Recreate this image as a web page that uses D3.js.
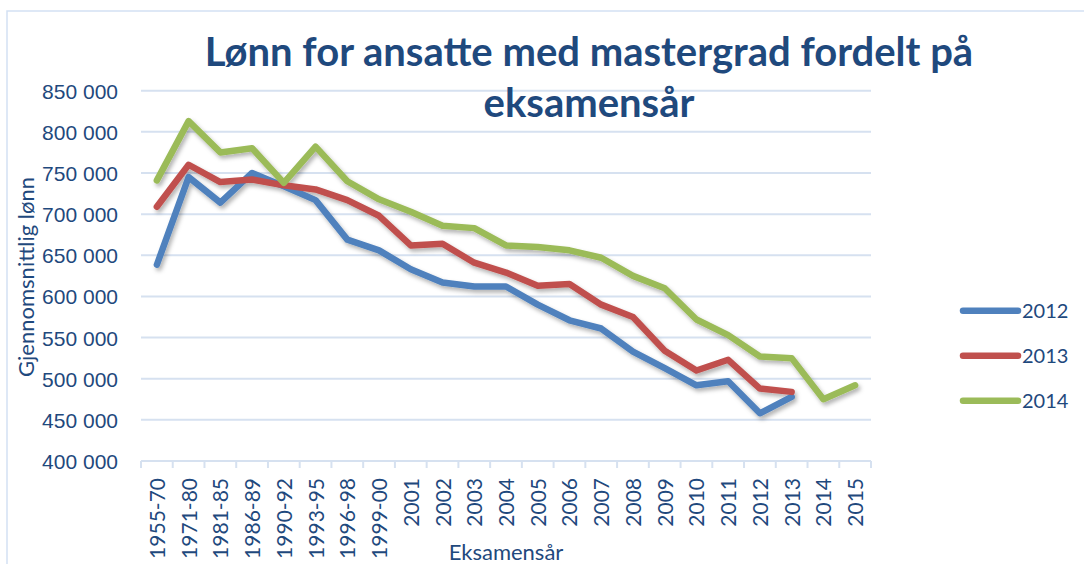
<!DOCTYPE html>
<html>
<head>
<meta charset="utf-8">
<script src="https://cdn.jsdelivr.net/npm/d3@7"></script>
<style>
  html, body { margin: 0; padding: 0; background: #fff; }
  svg { display: block; font-family: Lato, "Open Sans", sans-serif; }
</style>
</head>
<body>
<div id="chart"></div>
<script>
// Kategorier (eksamensår)
const categories = ["1955-70", "1971-80", "1981-85", "1986-89", "1990-92", "1993-95", "1996-98", "1999-00",
  "2001", "2002", "2003", "2004", "2005", "2006", "2007", "2008", "2009", "2010", "2011", "2012", "2013", "2014", "2015"];

// Gjennomsnittlig lønn per serie
const values2012 = [638500, 745000, 714000, 750000, 734000, 717000, 669000, 656000, 633000, 617000, 612000, 612000,
  590000, 571000, 561000, 533000, 513000, 492000, 497000, 458000, 478000, null, null];
const values2013 = [709000, 760000, 739000, 742000, 735000, 730000, 717000, 698000, 662000, 664000, 641000, 629000,
  613000, 615000, 590000, 575000, 534000, 510000, 523000, 488000, 484000, null, null];
const values2014 = [741000, 813000, 775000, 780000, 738000, 782000, 740000, 718000, 703000, 686000, 683000, 662000,
  660000, 656000, 647000, 625000, 610000, 572000, 553000, 527000, 525000, 475000, 492000];

const seriesNames = ["2012", "2013", "2014"];
const yTicks = [400000, 450000, 500000, 550000, 600000, 650000, 700000, 750000, 800000, 850000];

const titleLines = ["Lønn for ansatte med mastergrad fordelt på", "eksamensår"];

const colors = ["#4F81BD", "#C0504D", "#9BBB59"];
const textColor = "#1F497D";
const gridColor = "#D6E1F0";

const width = 1084, height = 564;
const plot = { left: 141, right: 871, top: 90.7, bottom: 461 };

const svg = d3.select("#chart").append("svg")
  .attr("width", width)
  .attr("height", height);

// Skygge for linjene
const defs = svg.append("defs");
const shadow = defs.append("filter")
  .attr("id", "shadow")
  .attr("x", "-10%").attr("y", "-10%")
  .attr("width", "130%").attr("height", "130%");
shadow.append("feDropShadow")
  .attr("dx", 2).attr("dy", 3)
  .attr("stdDeviation", 2)
  .attr("flood-color", "#000")
  .attr("flood-opacity", 0.3);

// Ramme rundt diagrammet
svg.append("rect")
  .attr("x", 7).attr("y", 11)
  .attr("width", width + 20).attr("height", height + 20)
  .attr("fill", "none")
  .attr("stroke", "#D3E1F3")
  .attr("stroke-width", 1.5);

const x = d3.scaleBand()
  .domain(categories)
  .range([plot.left, plot.right]);

const y = d3.scaleLinear()
  .domain([400000, 850000])
  .range([plot.bottom, plot.top]);

const nbLocale = d3.formatLocale({ decimal: ",", thousands: " ", grouping: [3], currency: ["", " kr"] });
const fmt = nbLocale.format(",");

// Rutenett
svg.append("g")
  .selectAll("line")
  .data(yTicks.filter(d => d > 400000))
  .enter().append("line")
  .attr("x1", plot.left)
  .attr("x2", plot.right)
  .attr("y1", d => y(d))
  .attr("y2", d => y(d))
  .attr("stroke", gridColor)
  .attr("stroke-width", 2);

// Y-akse
const yAxis = svg.append("g")
  .attr("transform", `translate(${plot.left - 23},0)`)
  .call(d3.axisLeft(y).tickValues(yTicks).tickFormat(fmt).tickSize(0).tickPadding(0));
yAxis.select(".domain").remove();
yAxis.selectAll("text")
  .attr("fill", textColor)
  .style("font-size", "21px")
  .attr("dy", "0.36em");

// X-akse (linje og streker mellom kategoriene)
svg.append("line")
  .attr("x1", plot.left).attr("x2", plot.right)
  .attr("y1", plot.bottom).attr("y2", plot.bottom)
  .attr("stroke", gridColor)
  .attr("stroke-width", 2);

const boundaries = categories.map(c => x(c)).concat([x(categories[categories.length - 1]) + x.bandwidth()]);
svg.append("g")
  .selectAll("line")
  .data(boundaries)
  .enter().append("line")
  .attr("x1", d => d).attr("x2", d => d)
  .attr("y1", plot.bottom).attr("y2", plot.bottom + 7)
  .attr("stroke", gridColor)
  .attr("stroke-width", 2);

svg.append("g")
  .selectAll("text")
  .data(categories)
  .enter().append("text")
  .attr("transform", d => `translate(${x(d) + x.bandwidth() / 2 + 8},${plot.bottom + 17}) rotate(-90)`)
  .attr("text-anchor", "end")
  .attr("fill", textColor)
  .style("font-size", "21px")
  .text(d => d);

// Aksetitler
svg.append("text")
  .attr("x", 506)
  .attr("y", 560)
  .attr("text-anchor", "middle")
  .attr("fill", textColor)
  .style("font-size", "22px")
  .text("Eksamensår");

svg.append("text")
  .attr("transform", "translate(34,277) rotate(-90)")
  .attr("text-anchor", "middle")
  .attr("fill", textColor)
  .style("font-size", "22px")
  .text("Gjennomsnittlig lønn");

// Tittel
svg.append("g")
  .selectAll("text")
  .data(titleLines)
  .enter().append("text")
  .attr("x", 589)
  .attr("y", (d, i) => 66 + i * 51)
  .attr("text-anchor", "middle")
  .attr("fill", textColor)
  .style("font-size", "40px")
  .style("font-weight", "bold")
  .text(d => d);

// Linjer
const allSeries = [values2012, values2013, values2014];
const line = d3.line()
  .defined(d => d != null)
  .x((d, i) => x(categories[i]) + x.bandwidth() / 2)
  .y(d => y(d));

svg.append("g")
  .attr("filter", "url(#shadow)")
  .selectAll("path")
  .data(allSeries)
  .enter().append("path")
  .attr("d", d => line(d))
  .attr("fill", "none")
  .attr("stroke", (d, i) => colors[i])
  .attr("stroke-width", 6.5)
  .attr("stroke-linejoin", "round")
  .attr("stroke-linecap", "round");

// Tegnforklaring
const legend = svg.append("g")
  .selectAll("g")
  .data(seriesNames)
  .enter().append("g")
  .attr("transform", (d, i) => `translate(963,${310.7 + i * 45})`);

legend.append("line")
  .attr("x1", 0).attr("x2", 55)
  .attr("y1", 0).attr("y2", 0)
  .attr("stroke", (d, i) => colors[i])
  .attr("stroke-width", 6.5)
  .attr("stroke-linecap", "round");

legend.append("text")
  .attr("x", 59)
  .attr("y", 0)
  .attr("dy", "0.36em")
  .attr("fill", textColor)
  .style("font-size", "20px")
  .text(d => d);
</script>
</body>
</html>
